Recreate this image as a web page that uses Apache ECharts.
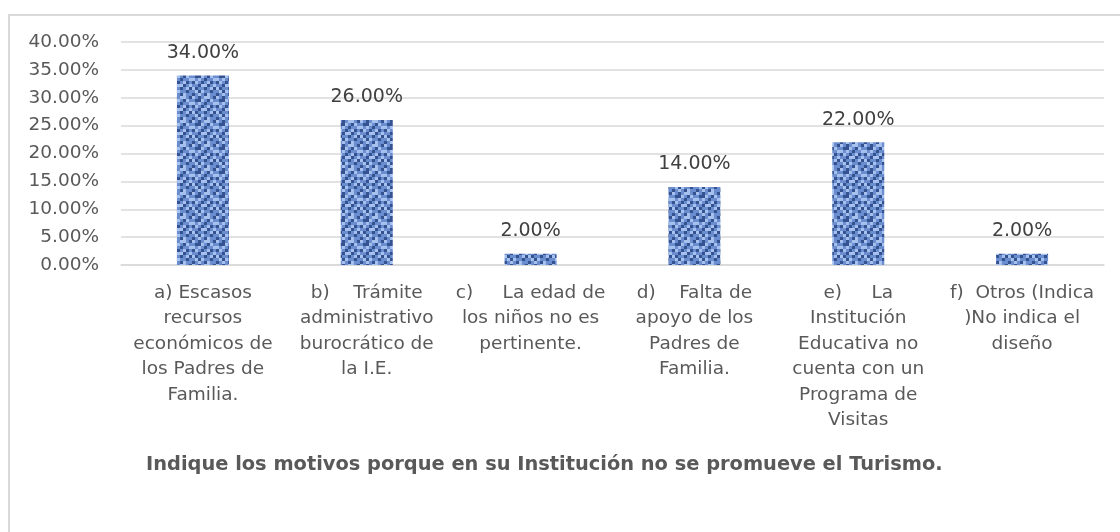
<!DOCTYPE html>
<html>
<head>
<meta charset="utf-8">
<script src="https://cdn.jsdelivr.net/npm/echarts@6/dist/echarts.min.js"></script>
<style>
html,body{margin:0;padding:0;background:#fff;}
#chart{width:1120px;height:532px;}
</style>
</head>
<body>
<div id="chart"></div>
<script>
const categories = [
  "a) Escasos\nrecursos\neconómicos de\nlos Padres de\nFamilia.",
  "b)    Trámite\nadministrativo\nburocrático de\nla I.E.",
  "c)     La edad de\nlos niños no es\npertinente.",
  "d)    Falta de\napoyo de los\nPadres de\nFamilia.",
  "e)     La\nInstitución\nEducativa no\ncuenta con un\nPrograma de\nVisitas",
  "f)  Otros (Indica\n)No indica el\ndiseño"
];
const values = [34, 26, 2, 14, 22, 2];
const yTicks = { min: 0, max: 40, interval: 5 };
const titleText = "Indique los motivos porque en su Institución no se promueve el Turismo.";

// deterministic woven texture for the bars
function makeTexture() {
  const rows = [
    "LMDMLLMD",
    "MDDLMDLM",
    "LMLMDMML",
    "DLMDMLDM",
    "MMDLLDML",
    "LDMMDMLD",
    "MLDLMMDM",
    "DMLMDLMM"
  ];
  const col = { L: '#a6c1ee', M: '#6a8dd0', D: '#34528f' };
  const s = 3;
  const c = document.createElement('canvas');
  c.width = rows[0].length * s; c.height = rows.length * s;
  const g = c.getContext('2d');
  rows.forEach((r, y) => {
    for (let x = 0; x < r.length; x++) {
      g.fillStyle = col[r[x]];
      g.fillRect(x * s, y * s, s, s);
    }
  });
  return c;
}

const chart = echarts.init(document.getElementById('chart'), null, { renderer: 'canvas' });
const FONT = '"DejaVu Sans", sans-serif';
chart.setOption({
  animation: false,
  backgroundColor: '#ffffff',
  graphic: [{
    type: 'rect',
    shape: { x: 9, y: 15, width: 1300, height: 700 },
    style: { fill: 'none', stroke: '#d9d9d9', lineWidth: 2 },
    silent: true
  }],
  title: {
    text: titleText,
    left: 141,
    top: 450,
    textStyle: { fontFamily: FONT, fontSize: 19.4, fontWeight: 'bold', color: '#595959' }
  },
  grid: { left: 121, right: 16, top: 42, bottom: 267, containLabel: false },
  xAxis: {
    type: 'category',
    data: categories,
    axisLine: { lineStyle: { color: '#d9d9d9', width: 1.5 } },
    axisTick: { show: false },
    axisLabel: {
      interval: 0,
      margin: 15,
      fontFamily: FONT,
      fontSize: 18.5,
      lineHeight: 25.5,
      color: '#595959',
      align: 'center'
    }
  },
  yAxis: {
    type: 'value',
    min: yTicks.min,
    max: yTicks.max,
    interval: yTicks.interval,
    axisLine: { show: false },
    axisTick: { show: false },
    splitLine: { lineStyle: { color: '#d9d9d9', width: 1.5 } },
    axisLabel: {
      margin: 22,
      fontFamily: FONT,
      fontSize: 18.5,
      color: '#595959',
      formatter: v => v.toFixed(2) + '%'
    }
  },
  series: [{
    type: 'bar',
    data: values,
    barWidth: 52,
    itemStyle: {
      color: { image: makeTexture(), repeat: 'repeat' }
    },
    label: {
      show: true,
      position: 'top',
      distance: 13,
      fontFamily: FONT,
      fontSize: 19,
      color: '#404040',
      formatter: p => p.value.toFixed(2) + '%'
    }
  }]
});
</script>
</body>
</html>
